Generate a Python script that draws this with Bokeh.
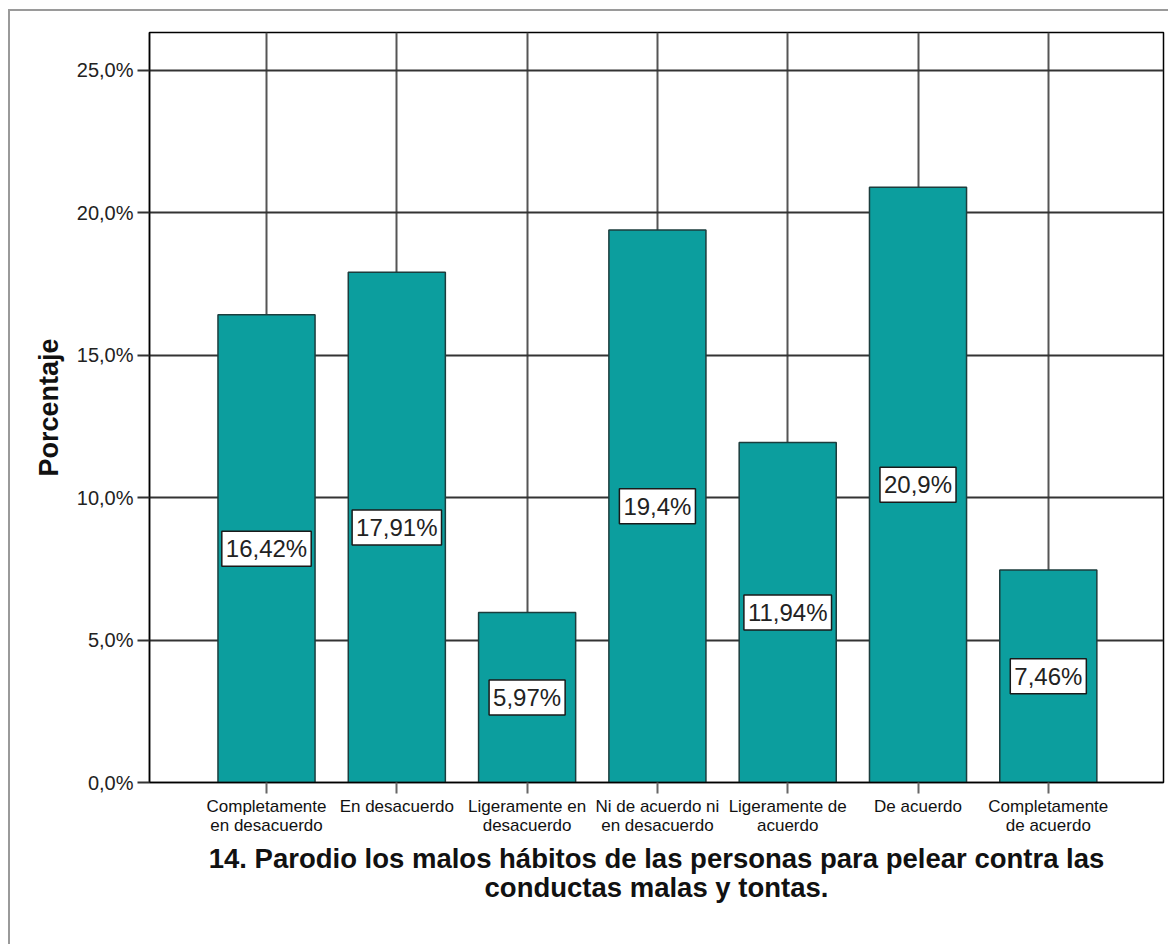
from bokeh.plotting import figure
from bokeh.models import FixedTicker, Range1d, ColumnDataSource
from bokeh.core.properties import value
from bokeh.embed import file_html
from bokeh.resources import INLINE

categories = [
    "Completamente\nen desacuerdo",
    "En desacuerdo",
    "Ligeramente en\ndesacuerdo",
    "Ni de acuerdo ni\nen desacuerdo",
    "Ligeramente de\nacuerdo",
    "De acuerdo",
    "Completamente\nde acuerdo",
]
percentages = [16.42, 17.91, 5.97, 19.4, 11.94, 20.9, 7.46]
y_ticks = [0, 5, 10, 15, 20, 25]
title_text = ("14. Parodio los malos hábitos de las personas para pelear contra las\n"
              "conductas malas y tontas.")
y_label = "Porcentaje"

xs = list(range(len(categories)))
labels = [(f"{v:.2f}".rstrip("0").rstrip(".")).replace(".", ",") + "%" for v in percentages]
src = ColumnDataSource(dict(x=xs, top=percentages, mid=[v / 2 for v in percentages], lab=labels))

p = figure(width=1160, height=935, output_backend="svg", toolbar_location=None,
           x_range=Range1d(-0.898, 6.884), y_range=Range1d(0, 26.33),
           min_border_left=139, min_border_right=7, min_border_top=21, min_border_bottom=164)
p.styles = {"margin-left": "8px", "margin-top": "9px",
            "border-top": "2px solid #9a9a9a", "border-left": "2px solid #9a9a9a"}
p.background_fill_color = "white"
p.border_fill_color = "white"
p.outline_line_color = "black"
p.outline_line_width = 1.5

p.vbar(x="x", top="top", width=0.745, bottom=0, source=src,
       fill_color="#0C9E9E", line_color="#1C3D3D", line_width=1.5)

p.text(x="x", y="mid", text="lab", source=src,
       text_align="center", text_baseline="middle",
       text_font=value("Liberation Sans"), text_font_size="24px", text_color="#222222",
       background_fill_color="white", border_line_color="#1a1a1a", border_line_width=1.5,
       padding=4)

# x axis
p.xaxis.ticker = FixedTicker(ticks=xs)
p.xaxis.major_label_overrides = {i: c for i, c in zip(xs, categories)}
p.xaxis.major_label_text_font = "Liberation Sans"
p.xaxis.major_label_text_font_size = "17px"
p.xaxis.major_label_text_color = "#111111"
p.xaxis.major_label_text_line_height = 1.0
p.xaxis.major_label_standoff = 3
p.xaxis.major_tick_out = 11
p.xaxis.major_tick_in = 0
p.xaxis.major_tick_line_color = "#666666"
p.xaxis.major_tick_line_width = 2
p.xaxis.minor_tick_line_color = None
p.xaxis.axis_line_color = "black"
p.xaxis.axis_line_width = 1.5
p.xaxis.axis_label = title_text
p.xaxis.axis_label_text_font = "Liberation Sans"
p.xaxis.axis_label_text_font_style = "bold"
p.xaxis.axis_label_text_font_size = "27.5px"
p.xaxis.axis_label_text_color = "#111111"
p.xaxis.axis_label_text_line_height = 0.95
p.xaxis.axis_label_standoff = 5

# y axis
p.yaxis.ticker = FixedTicker(ticks=y_ticks)
p.yaxis.major_label_overrides = {t: f"{t:.1f}".replace(".", ",") + "%" for t in y_ticks}
p.yaxis.major_label_text_font = "Liberation Sans"
p.yaxis.major_label_text_font_size = "20px"
p.yaxis.major_label_text_color = "#222222"
p.yaxis.major_label_standoff = 4
p.yaxis.major_tick_out = 12
p.yaxis.major_tick_in = 0
p.yaxis.major_tick_line_color = "#333333"
p.yaxis.major_tick_line_width = 2
p.yaxis.minor_tick_line_color = None
p.yaxis.axis_line_color = "black"
p.yaxis.axis_line_width = 1.5
p.yaxis.axis_label = y_label
p.yaxis.axis_label_text_font = "Liberation Sans"
p.yaxis.axis_label_text_font_style = "bold"
p.yaxis.axis_label_text_font_size = "27px"
p.yaxis.axis_label_text_color = "#111111"
p.yaxis.axis_label_standoff = 10

# grids
p.xgrid.ticker = FixedTicker(ticks=xs)
p.xgrid.grid_line_color = "#555555"
p.xgrid.grid_line_width = 2
p.ygrid.ticker = FixedTicker(ticks=y_ticks)
p.ygrid.grid_line_color = "#333333"
p.ygrid.grid_line_width = 2

open("out.html", "w").write(file_html(p, INLINE))
